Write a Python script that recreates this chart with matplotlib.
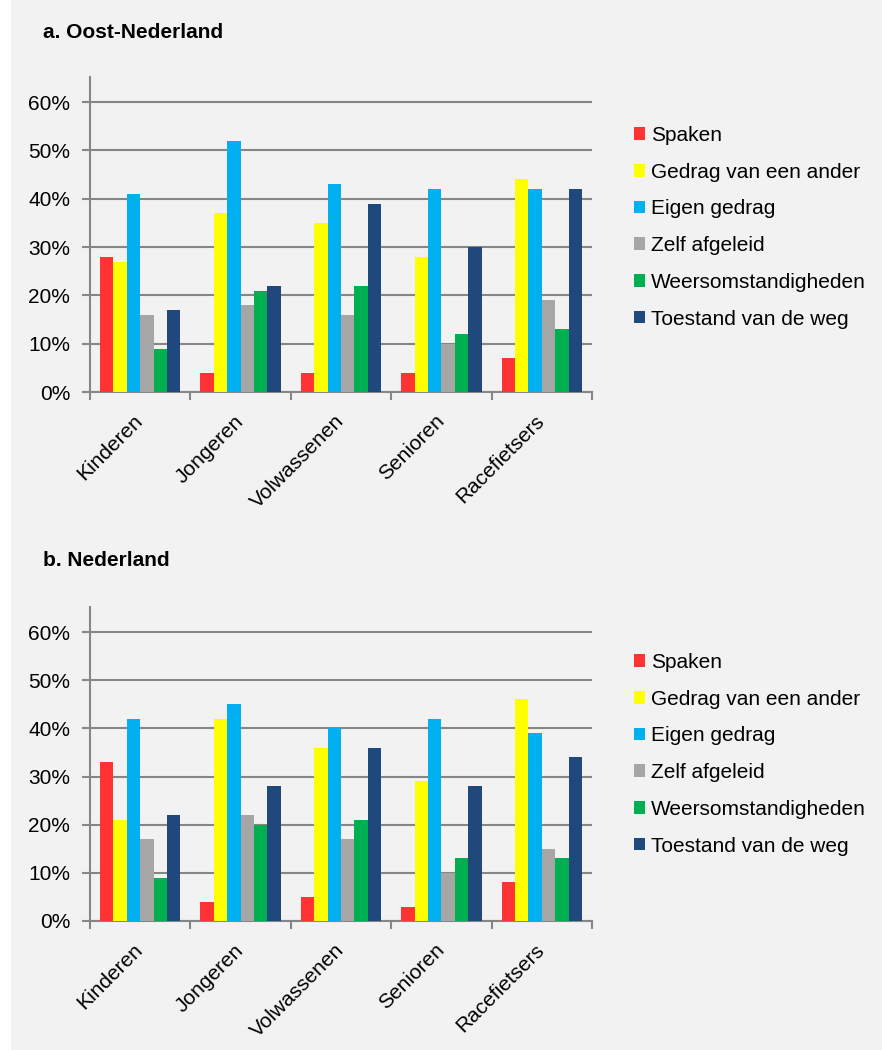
import matplotlib.pyplot as plt
import matplotlib.patches as mpatches
from matplotlib.ticker import FuncFormatter
import numpy as np

plt.rcParams['font.family'] = ['Liberation Sans', 'DejaVu Sans']

groups = ['Kinderen', 'Jongeren', 'Volwassenen', 'Senioren', 'Racefietsers']
causes = ['Spaken', 'Gedrag van een ander', 'Eigen gedrag', 'Zelf afgeleid',
          'Weersomstandigheden', 'Toestand van de weg']
colors = ['#FF3333', '#FFFF00', '#00B0F0', '#A6A6A6', '#00B050', '#1F497D']

# percentages per cause, one value per group
oost_spaken = [28, 4, 4, 4, 7]
oost_gedrag_ander = [27, 37, 35, 28, 44]
oost_eigen_gedrag = [41, 52, 43, 42, 42]
oost_afgeleid = [16, 18, 16, 10, 19]
oost_weer = [9, 21, 22, 12, 13]
oost_weg = [17, 22, 39, 30, 42]

nl_spaken = [33, 4, 5, 3, 8]
nl_gedrag_ander = [21, 42, 36, 29, 46]
nl_eigen_gedrag = [42, 45, 40, 42, 39]
nl_afgeleid = [17, 22, 17, 10, 15]
nl_weer = [9, 20, 21, 13, 13]
nl_weg = [22, 28, 36, 28, 34]

oost = [oost_spaken, oost_gedrag_ander, oost_eigen_gedrag, oost_afgeleid, oost_weer, oost_weg]
nl = [nl_spaken, nl_gedrag_ander, nl_eigen_gedrag, nl_afgeleid, nl_weer, nl_weg]

BG = '#F2F2F2'
AXIS = '#868686'

fig = plt.figure(figsize=(8.82, 10.5), dpi=100, facecolor=BG)
fig.patches.append(mpatches.Rectangle((0, 0), 11 / 882, 1, transform=fig.transFigure,
                                      facecolor='white', edgecolor='none', zorder=0))


def draw_panel(rect, series, title, title_y, legend_y):
    ax = fig.add_axes(rect)
    ax.set_facecolor(BG)
    x = np.arange(len(groups))
    width = 0.8 / len(causes)
    for i, (vals, col) in enumerate(zip(series, colors)):
        pos = x - 0.4 + width * (i + 0.5)
        ax.bar(pos, np.array(vals) / 100, width=width, color=col,
               edgecolor='none', label=causes[i], zorder=3)

    ax.set_xlim(-0.5, len(groups) - 0.5)
    ax.set_ylim(0, 0.652)
    ax.set_yticks(np.arange(0, 0.61, 0.1))
    ax.yaxis.set_major_formatter(FuncFormatter(lambda v, _: f'{v * 100:.0f}%'))
    ax.grid(axis='y', color=AXIS, linewidth=1.5, zorder=1)

    # tick marks sit between the groups; the rotated labels hang just left of centre
    ax.set_xticks(np.arange(-0.5, len(groups), 1.0))
    ax.set_xticklabels([])
    ax.set_xticks(x - 0.07, minor=True)
    ax.set_xticklabels(groups, minor=True, rotation=45, ha='right',
                       rotation_mode='anchor', fontsize=15)
    ax.tick_params(axis='x', which='minor', length=0, pad=14)
    ax.tick_params(axis='x', which='major', length=6, width=1.5, color=AXIS)
    ax.tick_params(axis='y', length=6, width=1.5, color=AXIS, labelsize=15, pad=8.3)

    for side in ('top', 'right'):
        ax.spines[side].set_visible(False)
    for side in ('left', 'bottom'):
        ax.spines[side].set_color(AXIS)
        ax.spines[side].set_linewidth(1.5)

    fig.text(43 / 882, title_y, title, fontsize=15, fontweight='bold', va='center')

    handles, labels = ax.get_legend_handles_labels()
    fig.legend(handles, labels, loc='upper left', bbox_to_anchor=(634 / 882, legend_y),
               frameon=False, fontsize=15, handlelength=0.55, handleheight=0.55,
               handletextpad=0.25, labelspacing=0.85, borderpad=0, borderaxespad=0)
    return ax


draw_panel([90 / 882, 1 - 392 / 1050, 502 / 882, 315 / 1050], oost,
           'a. Oost-Nederland', 1 - 32 / 1050, 1 - 126 / 1050)
draw_panel([90 / 882, 1 - 921 / 1050, 502 / 882, 314 / 1050], nl,
           'b. Nederland', 1 - 561 / 1050, 1 - 653 / 1050)

fig.savefig('out.png', dpi=100, facecolor=BG)
